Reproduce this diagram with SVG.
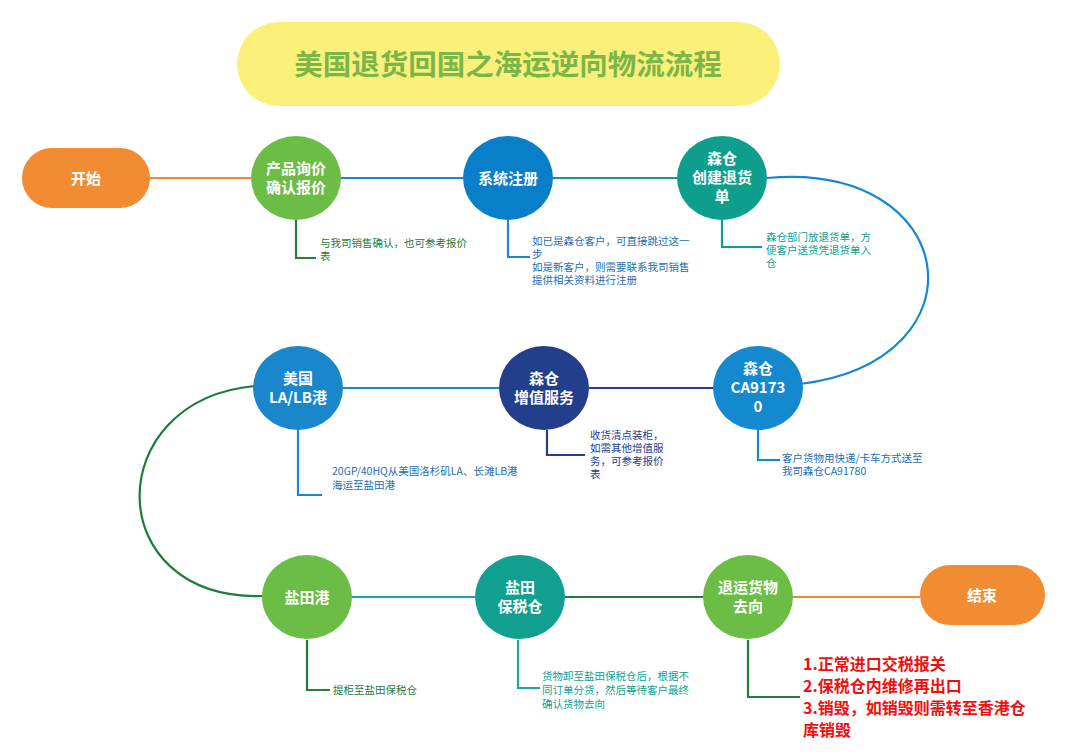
<svg xmlns="http://www.w3.org/2000/svg" width="1080" height="756" viewBox="0 0 1080 756">
<style>
text{font-family:"Noto Sans CJK SC","Noto Sans",sans-serif}
.n{font-size:15px;font-weight:bold;fill:#fff;text-anchor:middle}
.c{font-size:10.5px}
.l{fill:none;stroke-width:2.2}
.r{font-size:16px;font-weight:bold;fill:#f01010}
</style>
<rect width="1080" height="756" fill="#fff"/>
<g id="title"><rect x="237" y="22" width="543" height="84" rx="42" fill="#fbf07a"/>
<text x="508" y="75" text-anchor="middle" font-size="28.5" font-weight="bold" fill="#7ab648">美国退货回国之海运逆向物流流程</text></g>
<g id="connectors">
<path class="l" d="M150 178H251" stroke="#f0883a"/>
<path class="l" d="M341 178H463" stroke="#1a86cc"/>
<path class="l" d="M553 178H677" stroke="#0e9e8e"/>
<path class="l" d="M767 178C960 160 990 360 800 384" stroke="#1589d0"/>
<path class="l" d="M713 388H589" stroke="#233e8b"/>
<path class="l" d="M499 388H343" stroke="#1a86cc"/>
<path class="l" d="M255 386C100 400 100 600 262 596" stroke="#1b7d3a"/>
<path class="l" d="M352 597H475" stroke="#1aa5a5"/>
<path class="l" d="M565 597H703" stroke="#2a7a3a"/>
<path class="l" d="M793 597H920" stroke="#f0883a"/>
<path class="l" d="M296 220V258H316" stroke="#2a7a3a"/>
<path class="l" d="M508 220V257H530" stroke="#1a86cc"/>
<path class="l" d="M722 220V247H762" stroke="#0e9e8e"/>
<path class="l" d="M298 430V495H322" stroke="#1a86cc"/>
<path class="l" d="M547 430V455H585" stroke="#233e8b"/>
<path class="l" d="M758 430V460H780" stroke="#1589d0"/>
<path class="l" d="M307 640V690H330" stroke="#2a7a3a"/>
<path class="l" d="M518 640V688H540" stroke="#1aa5a5"/>
<path class="l" d="M748 640V697H800" stroke="#2a7a3a"/>
</g>
<g id="start"><rect x="22" y="148" width="128" height="60" rx="30" fill="#f28c33"/><text class="n" x="86" y="184">开始</text></g>
<g id="n1"><ellipse cx="296" cy="178" rx="45" ry="42" fill="#6bbd45"/><text class="n" x="296" y="174">产品询价</text><text class="n" x="296" y="193">确认报价</text></g>
<g id="n2"><ellipse cx="508" cy="178" rx="45" ry="42" fill="#0a7fc9"/><text class="n" x="508" y="184">系统注册</text></g>
<g id="n3"><ellipse cx="722" cy="178" rx="45" ry="42" fill="#0e9e8e"/><text class="n" x="722" y="164">森仓</text><text class="n" x="722" y="183">创建退货</text><text class="n" x="722" y="202">单</text></g>
<g id="n4"><ellipse cx="758" cy="388" rx="45" ry="42" fill="#1589d0"/><text class="n" x="758" y="374">森仓</text><text class="n" x="758" y="393">CA9173</text><text class="n" x="758" y="412">0</text></g>
<g id="n5"><ellipse cx="544" cy="388" rx="45" ry="42" fill="#233e8b"/><text class="n" x="544" y="384">森仓</text><text class="n" x="544" y="403">增值服务</text></g>
<g id="n6"><ellipse cx="298" cy="388" rx="45" ry="42" fill="#1a86cc"/><text class="n" x="298" y="384">美国</text><text class="n" x="298" y="403">LA/LB港</text></g>
<g id="n7"><ellipse cx="307" cy="597" rx="45" ry="42" fill="#6bbd45"/><text class="n" x="307" y="603">盐田港</text></g>
<g id="n8"><ellipse cx="520" cy="597" rx="45" ry="42" fill="#11a090"/><text class="n" x="520" y="593">盐田</text><text class="n" x="520" y="612">保税仓</text></g>
<g id="n9"><ellipse cx="748" cy="597" rx="45" ry="42" fill="#6bbd45"/><text class="n" x="748" y="593">退运货物</text><text class="n" x="748" y="612">去向</text></g>
<g id="end"><rect x="920" y="565" width="125" height="60" rx="30" fill="#f28c33"/><text class="n" x="982" y="601">结束</text></g>
<g id="notes">
<text class="c" fill="#2a7a3a" x="320" y="247">与我司销售确认，也可参考报价<tspan x="320" dy="13">表</tspan></text>
<text class="c" fill="#1a6fb0" x="532" y="245">如已是森仓客户，可直接跳过这一<tspan x="532" dy="13">步</tspan><tspan x="532" dy="13">如是新客户，则需要联系我司销售</tspan><tspan x="532" dy="13">提供相关资料进行注册</tspan></text>
<text class="c" fill="#0e9e8e" x="766" y="241">森仓部门放退货单，方<tspan x="766" dy="13">便客户送货凭退货单入</tspan><tspan x="766" dy="13">仓</tspan></text>
<text class="c" fill="#1a6fb0" x="332" y="475">20GP/40HQ从美国洛杉矶LA、长滩LB港<tspan x="332" dy="14">海运至盐田港</tspan></text>
<text class="c" fill="#233e8b" x="590" y="439">收货清点装柜，<tspan x="590" dy="13">如需其他增值服</tspan><tspan x="590" dy="13">务，可参考报价</tspan><tspan x="590" dy="13">表</tspan></text>
<text class="c" fill="#1a6fb0" x="782" y="462">客户货物用快递/卡车方式送至<tspan x="782" dy="13">我司森仓CA91780</tspan></text>
<text class="c" fill="#2a7a3a" x="333" y="694">提柜至盐田保税仓</text>
<text class="c" fill="#11a090" x="542" y="680">货物卸至盐田保税仓后，根据不<tspan x="542" dy="14">同订单分货，然后等待客户最终</tspan><tspan x="542" dy="14">确认货物去向</tspan></text>
<text class="r" x="803" y="670">1.正常进口交税报关<tspan x="803" dy="22">2.保税仓内维修再出口</tspan><tspan x="803" dy="22">3.销毁，如销毁则需转至香港仓</tspan><tspan x="803" dy="22">库销毁</tspan></text>
</g>
</svg>
